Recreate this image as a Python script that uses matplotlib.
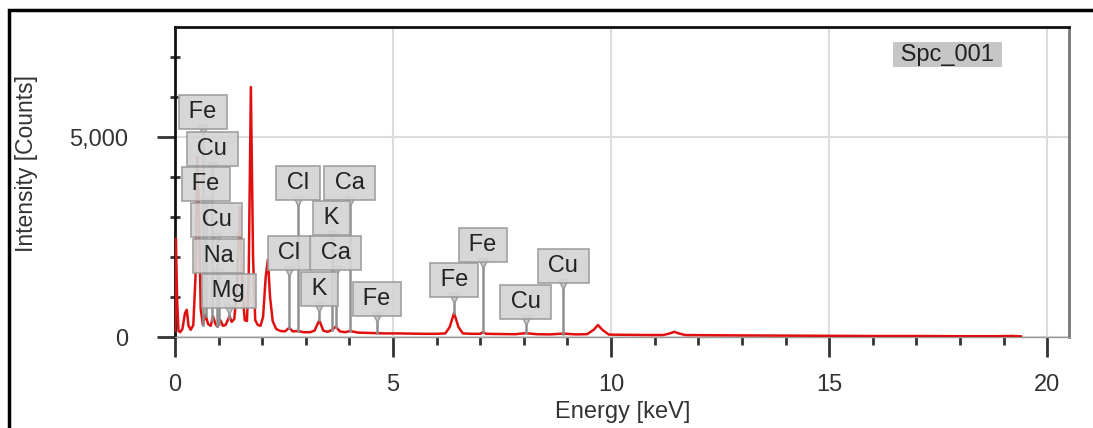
import matplotlib.pyplot as plt
from matplotlib.patches import Rectangle
import numpy as np

plt.rcParams['font.family'] = ['Liberation Sans', 'DejaVu Sans']

# spectrum
energy = [0.00, 0.02, 0.05, 0.08, 0.12, 0.17, 0.23, 0.27, 0.31, 0.36, 0.42, 0.47,
          0.51, 0.55, 0.59, 0.64, 0.70, 0.76, 0.82, 0.87, 0.93, 0.98, 1.04, 1.10,
          1.16, 1.21, 1.25, 1.30, 1.36, 1.42, 1.49, 1.55, 1.60, 1.65, 1.69, 1.74,
          1.79, 1.84, 1.90, 1.96, 2.02, 2.08, 2.13, 2.18, 2.24, 2.32, 2.42, 2.52,
          2.62, 2.70, 2.82, 2.95, 3.10, 3.20, 3.31, 3.40, 3.50, 3.59, 3.69, 3.78,
          3.90, 4.01, 4.20, 4.50, 4.80, 5.10, 5.40, 5.70, 6.00, 6.20, 6.30, 6.40,
          6.50, 6.60, 6.80, 7.00, 7.06, 7.14, 7.40, 7.80, 8.04, 8.30, 8.60, 8.90,
          9.20, 9.45, 9.60, 9.70, 9.80, 9.95, 10.3, 10.8, 11.2, 11.35, 11.45, 11.55,
          11.7, 12.2, 13.0, 14.0, 15.0, 16.0, 17.0, 18.0, 18.8, 19.2, 19.4]
counts = [150, 2450, 900, 150, 120, 200, 600, 680, 280, 180, 300, 1500,
          4500, 3000, 700, 300, 560, 320, 280, 520, 320, 260, 420, 280,
          300, 420, 520, 380, 450, 1200, 3250, 1100, 420, 400, 1500, 6250,
          2000, 420, 300, 280, 500, 1500, 1930, 1000, 400, 200, 150, 140,
          230, 140, 150, 120, 120, 160, 420, 160, 130, 170, 260, 140,
          120, 150, 110, 100, 90, 90, 85, 80, 80, 90, 250, 600,
          250, 90, 80, 80, 120, 80, 75, 70, 95, 70, 65, 85,
          65, 70, 180, 300, 180, 60, 55, 50, 50, 90, 130, 90,
          50, 45, 40, 35, 30, 25, 25, 20, 20, 25, 15]

# element markers
labels = ['Fe', 'Cu', 'Fe', 'Cu', 'Na', 'Mg', 'Cl', 'Ca', 'K', 'Cl', 'Ca', 'K',
          'Fe', 'Fe', 'Fe', 'Cu', 'Cu']
label_e = [0.64, 0.85, 0.71, 0.96, 1.00, 1.23, 2.82, 4.01, 3.59, 2.62, 3.69, 3.31,
           4.63, 6.40, 7.06, 8.04, 8.90]
label_y = [5625, 4700, 3825, 2925, 2025, 1150, 3850, 3850, 2975, 2100, 2100, 1200,
           950, 1425, 2300, 875, 1775]

fig = plt.figure(figsize=(10.93, 4.28), dpi=100)
ax = fig.add_axes([0.1601, 0.2126, 0.8179, 0.7243])

ax.plot(energy, counts, color='#e01010', lw=1.8, zorder=3)

half = 412
tips = np.interp(label_e, energy, counts)
for lab, e, y, t in zip(labels, label_e, label_y, tips):
    ax.plot([e, e], [t, y - half], color='#8f8f8f', lw=1.8, zorder=4)
    ax.plot(e, y - half - 50, marker='v', ms=7, color='#c8c8c8',
            mec='#999999', zorder=5)
    ax.text(e, y, '\u2009' + lab + '\u2009', ha='center', va='center',
            fontsize=17, color='#222222', zorder=6,
            bbox=dict(boxstyle='square,pad=0.24', fc='#d4d4d4', ec='#9a9a9a',
                      lw=1.2, alpha=0.92))

ax.text(0.864, 0.91, ' Spc_001 ', transform=ax.transAxes, ha='center',
        va='center', fontsize=17, color='#222222',
        bbox=dict(boxstyle='square,pad=0.06', fc='#c6c6c6', ec='none'))

ax.set_xlim(0, 20.5)
ax.set_ylim(0, 7750)
ax.set_xticks([0, 5, 10, 15, 20])
ax.set_xticks(np.arange(0, 21, 1), minor=True)
ax.set_yticks([0, 5000])
ax.set_yticks(np.arange(0, 8000, 1000), minor=True)
ax.set_yticklabels(['0', '5,000'])
ax.grid(True, which='major', color='#dcdcdc', lw=1.5, zorder=0)
ax.set_axisbelow(True)

ax.tick_params(axis='x', which='major', length=14.5, width=2, color='#333333',
               labelsize=17, labelcolor='#333333', pad=12)
ax.tick_params(axis='y', which='major', length=13, width=2, color='#333333',
               labelsize=17, labelcolor='#333333', pad=21)
ax.tick_params(axis='x', which='minor', length=6, width=2, color='#333333')
ax.tick_params(axis='y', which='minor', length=7, width=2, color='#333333',
               direction='inout')

for s in ['left', 'top']:
    ax.spines[s].set_linewidth(2)
    ax.spines[s].set_color('#111111')
ax.spines['right'].set_linewidth(2)
ax.spines['right'].set_color('#777777')
ax.spines['bottom'].set_linewidth(1)
ax.spines['bottom'].set_color('#999999')

ax.set_xlabel('Energy [keV]', fontsize=17, color='#333333')
ax.set_ylabel('Intensity [Counts]', fontsize=16.5, color='#333333')
ax.xaxis.set_label_coords(0.501, -0.206)
ax.yaxis.set_label_coords(-0.153, 0.56)

fig.add_artist(Rectangle((0.0078, -0.2), 1.2, 1.1755, transform=fig.transFigure,
                         fill=False, ec='black', lw=2.5))

fig.savefig('out.png', dpi=100)
